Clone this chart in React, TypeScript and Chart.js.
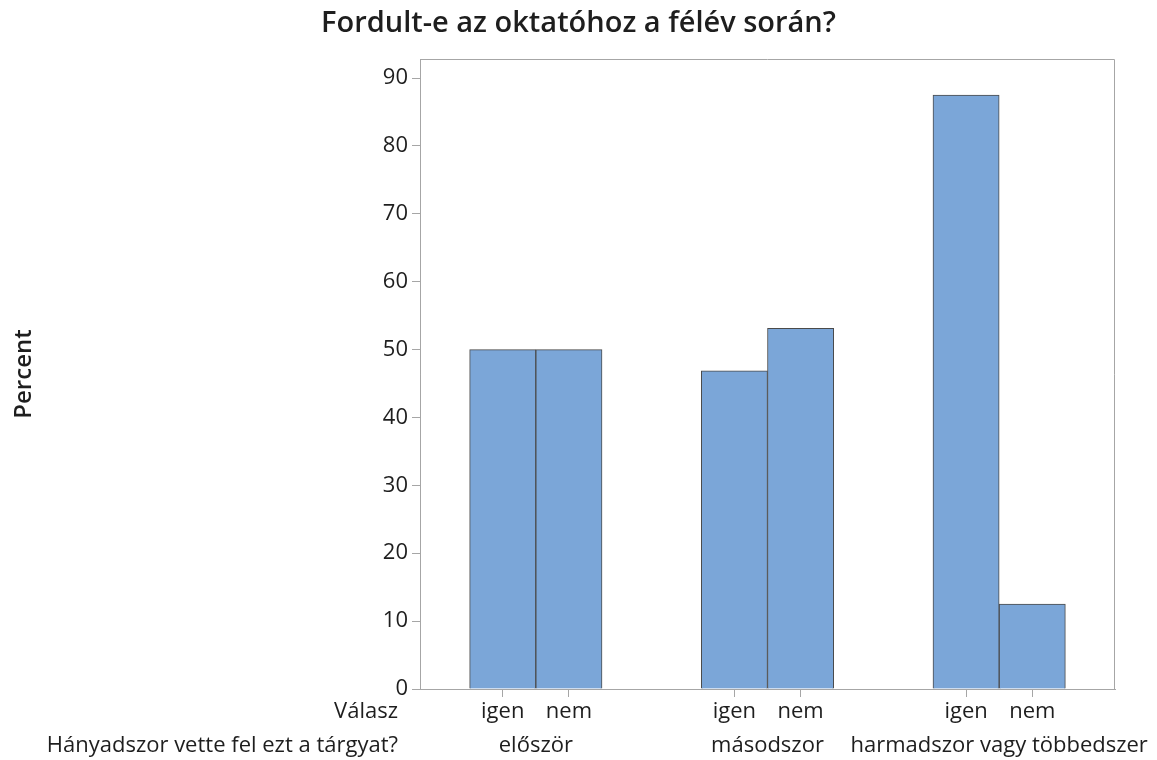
import React, { useEffect, useRef } from "react";
import { Chart, registerables } from "chart.js";

Chart.register(...registerables);

const answers = ["igen", "nem", "igen", "nem", "igen", "nem"];
const positions = [1.25, 2.25, 4.75, 5.75, 8.25, 9.25];
const percents = [50, 50, 46.875, 53.125, 87.5, 12.5];
const groups = ["először", "másodszor", "harmadszor vagy többedszer"];
const groupPositions = [1.75, 5.25, 8.75];
const yTicks = [0, 10, 20, 30, 40, 50, 60, 70, 80, 90];

const FONT = "'Open Sans', 'Noto Sans', sans-serif";
const AXIS_GRAY = "#a6a6a6";
const TEXT = "#1e1e1e";
const TICK_SIZE = 22;
const TICK_LH = TICK_SIZE * 1.2;
const X_TICK_LEN = 8;
const X_PAD = 2;
const X_HEIGHT = 36;
const X2_PAD = 8;
const X2_HEIGHT = X2_PAD + TICK_LH;
const RIGHT_GAP = 42;

const framePlugin = {
  id: "frameAndRowLabels",
  afterDraw(chart: any) {
    const { ctx, chartArea } = chart;
    ctx.save();
    ctx.strokeStyle = AXIS_GRAY;
    ctx.lineWidth = 1;
    ctx.beginPath();
    ctx.moveTo(chartArea.left + 0.5, chartArea.bottom);
    ctx.lineTo(chartArea.left + 0.5, chartArea.top + 0.5);
    ctx.lineTo(chartArea.right - 0.5, chartArea.top + 0.5);
    ctx.lineTo(chartArea.right - 0.5, chartArea.bottom);
    ctx.stroke();
    const x = chart.scales.x;
    const x2 = chart.scales.x2;
    ctx.fillStyle = TEXT;
    ctx.font = `${TICK_SIZE}px ${FONT}`;
    ctx.textAlign = "right";
    ctx.textBaseline = "middle";
    const rx = chartArea.left - 22;
    ctx.fillText("Válasz", rx, x.top + X_TICK_LEN + X_PAD + TICK_LH / 2);
    ctx.fillText("Hányadszor vette fel ezt a tárgyat?", rx, x2.top + X2_PAD + TICK_LH / 2);
    ctx.restore();
  },
};

export default function App() {
  const ref = useRef<HTMLCanvasElement>(null);
  useEffect(() => {
    if (!ref.current) return;
    const chart = new Chart(ref.current, {
      type: "bar",
      data: {
        datasets: [
          {
            data: positions.map((p, i) => ({ x: p, y: percents[i] })),
            backgroundColor: "#7BA6D8",
            borderColor: "#4a4a4a",
            borderWidth: 1,
            categoryPercentage: 1,
            barPercentage: 1,
          } as any,
        ],
      },
      plugins: [framePlugin],
      options: {
        animation: false,
        responsive: false,
        maintainAspectRatio: false,
        layout: { padding: { left: 0, right: 0, top: 0, bottom: Math.max(0, 760 - 689 - X_HEIGHT - X2_HEIGHT) } },
        plugins: {
          legend: { display: false },
          tooltip: { enabled: false },
          title: {
            display: true,
            text: "Fordult-e az oktatóhoz a félév során?",
            color: TEXT,
            font: { family: FONT, size: 29, weight: "600" as any, lineHeight: 1.2 },
            padding: { top: 6.6, bottom: 17.6 },
          },
        },
        scales: {
          x: {
            type: "linear",
            position: "bottom",
            weight: 0,
            min: 0,
            max: 10.5,
            offset: false,
            afterBuildTicks: (s: any) => {
              s.ticks = positions.map((v) => ({ value: v }));
            },
            afterFit: (s: any) => {
              s.height = X_HEIGHT;
              s.paddingLeft = 0;
              s.paddingRight = RIGHT_GAP;
            },
            grid: {
              offset: false,
              drawOnChartArea: false,
              drawTicks: true,
              tickLength: X_TICK_LEN,
              color: AXIS_GRAY,
            },
            border: { display: true, color: AXIS_GRAY },
            ticks: {
              autoSkip: false,
              maxRotation: 0,
              padding: X_PAD,
              color: TEXT,
              font: { family: FONT, size: TICK_SIZE, lineHeight: 1.2 },
              callback: (v: any) => {
                const i = positions.indexOf(Number(v));
                return i >= 0 ? answers[i] : "";
              },
            },
          },
          x2: {
            type: "linear",
            position: "bottom",
            weight: 1,
            min: 0,
            max: 10.5,
            offset: false,
            afterBuildTicks: (s: any) => {
              s.ticks = groupPositions.map((v) => ({ value: v }));
            },
            afterFit: (s: any) => {
              s.height = X2_HEIGHT;
              s.paddingLeft = 0;
              s.paddingRight = RIGHT_GAP;
            },
            grid: { display: false, offset: false, drawTicks: false, drawOnChartArea: false },
            border: { display: false },
            ticks: {
              autoSkip: false,
              maxRotation: 0,
              padding: X2_PAD,
              color: TEXT,
              font: { family: FONT, size: TICK_SIZE, lineHeight: 1.2 },
              callback: (v: any) => {
                const i = groupPositions.indexOf(Number(v));
                return i >= 0 ? groups[i] : "";
              },
            },
          },
          y: {
            type: "linear",
            min: 0,
            max: 92.8,
            afterBuildTicks: (s: any) => {
              s.ticks = yTicks.map((v) => ({ value: v }));
            },
            afterFit: (s: any) => {
              s.width = 420;
            },
            grid: {
              drawOnChartArea: false,
              drawTicks: true,
              tickLength: 8,
              color: AXIS_GRAY,
            },
            border: { display: true, color: AXIS_GRAY },
            ticks: {
              padding: 4,
              color: TEXT,
              font: { family: FONT, size: TICK_SIZE, lineHeight: 1.2 },
            },
            title: {
              display: true,
              text: "Percent",
              color: TEXT,
              font: { family: FONT, size: 24, weight: "600" as any, lineHeight: 1.2 },
              padding: { top: 9.6, bottom: 0 },
            },
          },
        },
      },
    });
    return () => chart.destroy();
  }, []);
  return (
    <div style={{ position: "absolute", left: 0, top: 0, width: 1157, height: 760, background: "#fff" }}>
      <canvas ref={ref} width={1157} height={760} style={{ width: 1157, height: 760 }} />
    </div>
  );
}
